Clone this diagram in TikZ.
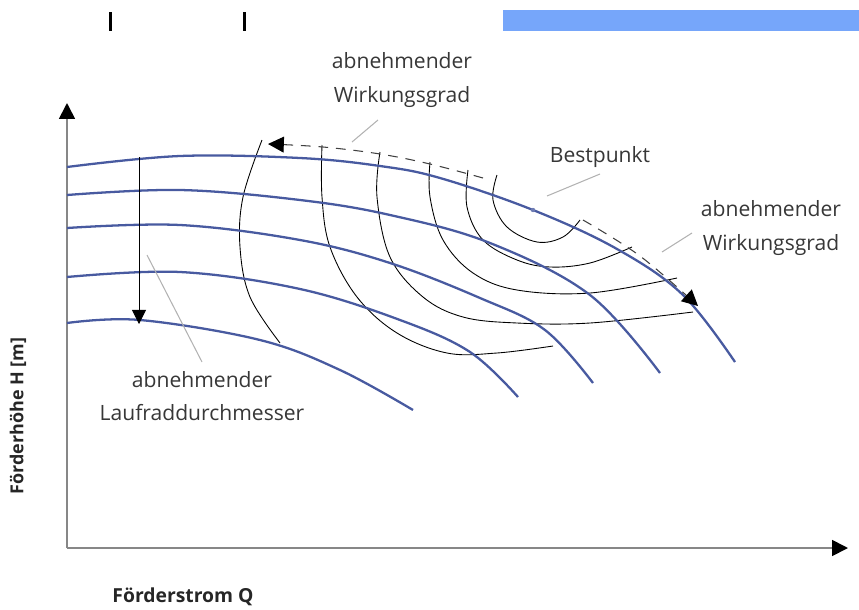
\documentclass[tikz,border=0pt]{standalone}
\usepackage{fontspec}
\setmainfont{Open Sans}
\usetikzlibrary{arrows.meta, positioning}
\definecolor{headblue}{RGB}{72,90,160}
\definecolor{axisgray}{RGB}{135,135,135}
\definecolor{textgray}{RGB}{55,55,55}
\definecolor{barblue}{RGB}{118,166,250}
\tikzset{
    headcurve/.style={draw=headblue, line width=1.3pt},
    effcurve/.style={draw=black, line width=0.5pt},
    axisline/.style={draw=axisgray, line width=1pt, -{Triangle[length=9pt,width=9pt,color=black]}},
    leader/.style={draw=gray!60, line width=0.6pt},
    lbltext/.style={text=textgray, align=center, font=\fontsize{12}{19}\selectfont},
    axislabel/.style={text=black!85, font=\bfseries\fontsize{11}{13}\selectfont},
    arrow/.style={line width=0.5pt, -{Triangle[length=8pt,width=8pt]}},
    etaarrow/.style={draw=black!75, line width=0.6pt, dash pattern=on 5.5pt off 4.5pt, -{Triangle[length=9pt,width=9pt,color=black]}}
}

\begin{document}
\begin{tikzpicture}[x=0.02cm, y=-0.02cm]
    \useasboundingbox (0,0) rectangle (859,609);

    % cut off header
    \fill[barblue] (503,10) rectangle (859,31);
    \fill[black] (109,12) rectangle (112,31);
    \fill[black] (243,12) rectangle (246,31);

    % axes
    \coordinate (origin) at (67,548);
    \coordinate (ytip) at (67,103);
    \coordinate (xtip) at (848,548);
    \draw[axisline] (origin) -- (ytip);
    \draw[axisline] (origin) -- (xtip);
    \node[axislabel, rotate=90, font=\bfseries\fontsize{10.2}{12}\selectfont] (hlabel) at (18,416) {Förderhöhe H [m]};
    \node[axislabel] (qlabel) at (183,597) {Förderstrom Q};

    % efficiency curves
    \draw[effcurve] plot[smooth, tension=0.6] coordinates {(262,140) (243,197) (240,247) (250,297) (280,343)};
    \draw[effcurve] plot[smooth, tension=0.6] coordinates {(322,145) (322,197) (330,247) (357,297) (397,333) (447,353) (497,353) (553,346)};
    \draw[effcurve] plot[smooth, tension=0.6] coordinates {(380,152) (377,197) (390,257) (423,297) (463,317) (517,323) (590,323) (693,312)};
    \draw[effcurve] plot[smooth, tension=0.6] coordinates {(430,162) (430,197) (443,240) (473,273) (517,290) (590,293) (677,278)};
    \draw[effcurve] plot[smooth, tension=0.6] coordinates {(468,170) (467,207) (483,240) (517,260) (550,267) (590,263) (632,247)};
    \draw[effcurve] plot[smooth, tension=0.6] coordinates {(497,175) (493,200) (507,227) (537,242) (563,237) (580,220)};

    % head curves
    \draw[headcurve] plot[smooth, tension=0.6] coordinates {(67,167) (180,156) (300,158) (380,166) (440,178) (533,210) (617,249) (683,295) (735,362)};
    \draw[headcurve] plot[smooth, tension=0.6] coordinates {(67,195) (180,190) (300,200) (390,215) (490,243) (590,295) (660,373)};
    \draw[headcurve] plot[smooth, tension=0.6] coordinates {(67,228) (180,225) (300,240) (390,263) (480,298) (545,330) (593,383)};
    \draw[headcurve] plot[smooth, tension=0.6] coordinates {(67,277) (180,272) (300,289) (400,320) (470,352) (518,397)};
    \draw[headcurve] plot[smooth, tension=0.6] coordinates {(67,323) (140,320) (260,340) (340,370) (413,410)};

    % best point
    \coordinate (best) at (533,210);
    \fill[headblue!80] (best) circle (2.2);

    % impeller diameter arrow
    \coordinate (dtop) at (139,157);
    \coordinate (dbot) at (139,324);
    \draw[arrow] (dtop) -- (dbot);

    % efficiency arrows
    \draw[etaarrow] plot[smooth, tension=0.6] coordinates {(483,178) (430,164) (380,154) (323,147) (268,144)};
    \draw[etaarrow] plot[smooth, tension=0.6] coordinates {(583,220) (640,256) (698,306)};

    % labels
    \node[lbltext] (etaleft) at (402,80) {abnehmender\\Wirkungsgrad};
    \node[lbltext] (bestlbl) at (600,157) {Bestpunkt};
    \node[lbltext] (etaright) at (771,228) {abnehmender\\Wirkungsgrad};
    \node[lbltext] (dlbl) at (202,396) {abnehmender\\Laufraddurchmesser};

    \coordinate (etaleftend) at (352,142);
    \coordinate (bestend) at (547,196);
    \coordinate (etarightend) at (662,252);
    \coordinate (dlblend) at (147,255);
    \draw[leader] (378,120) -- (etaleftend);
    \draw[leader] (600,174) -- (bestend);
    \draw[leader] (692,233) -- (etarightend);
    \draw[leader] (202,362) -- (dlblend);
\end{tikzpicture}
\end{document}
